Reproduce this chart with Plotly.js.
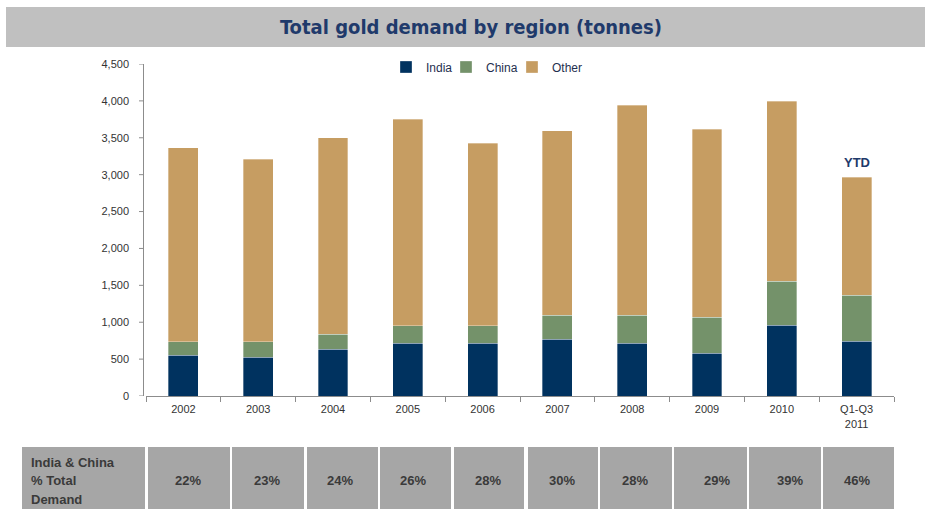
<!DOCTYPE html>
<html>
<head>
<meta charset="utf-8">
<script src="https://cdn.plot.ly/plotly-3.0.1.min.js"></script>
<style>html,body{margin:0;padding:0;background:#fff;}#chart{width:925px;height:509px;}</style>
</head>
<body>
<div id="chart"></div>
<script>
// ---- data ----
var categories = ["2002","2003","2004","2005","2006","2007","2008","2009","2010","Q1-Q3<br>2011"];
var india = [552, 524, 633, 714, 714, 768, 714, 578, 958, 740];
var chinaCum = [736, 736, 840, 953, 953, 1094, 1094, 1066, 1554, 1364];
var totals = [3365, 3208, 3501, 3750, 3425, 3592, 3940, 3614, 3994, 2964];
var china = chinaCum.map(function(v,i){return v - india[i];});
var other = totals.map(function(v,i){return v - chinaCum[i];});
var pctLabels = ["22%","23%","24%","26%","28%","30%","28%","29%","39%","46%"];
var tableHeader = ["India & China","% Total","Demand"];
var yTicks = [0,500,1000,1500,2000,2500,3000,3500,4000,4500];

// ---- layout helpers ----
var L = 146, R = 894, T = 64, B = 396;
function px(x){ return (x - L) / (R - L); }
function py(y){ return (B - y) / (B - T); }

var barLine = {color:'rgba(255,255,255,0.55)', width:0.6};
var traces = [
  {type:'bar', name:'India', x:categories, y:india, marker:{color:'#00325f', line:barLine}, legend:'legend'},
  {type:'bar', name:'China', x:categories, y:china, marker:{color:'#74926a', line:barLine}, legend:'legend2'},
  {type:'bar', name:'Other', x:categories, y:other, marker:{color:'#c69d62', line:barLine}, legend:'legend3'}
];

var shapes = [
  {type:'rect', xref:'paper', yref:'paper', x0:px(6), x1:px(925), y0:py(47), y1:py(7),
   fillcolor:'#c0c0c0', line:{width:0}, layer:'below'},
  {type:'line', xref:'paper', yref:'paper', x0:px(143.5), x1:px(143.5), y0:0, y1:1,
   line:{color:'#8c8c8c', width:1}}
];
var cellEdges = [[22,145],[148,230],[232,304],[307,378],[380,451],[454,524],[528,598],[600,672],[674,747],[749,821],[823,894]];
cellEdges.forEach(function(c){
  shapes.push({type:'rect', xref:'paper', yref:'paper', x0:px(c[0]), x1:px(c[1]), y0:py(520), y1:py(447),
    fillcolor:'#a6a6a6', line:{width:0}});
});

var tf = '"Liberation Sans", Arial, sans-serif';
var annotations = [
  {xref:'paper', yref:'paper', x:px(471), y:py(27), xanchor:'center', yanchor:'middle',
   text:'<b>Total gold demand by region (tonnes)</b>', showarrow:false,
   font:{family:'"DejaVu Sans Condensed", "Liberation Sans Narrow", "Liberation Sans", Arial, sans-serif', size:20, color:'#1f3a6b'}},
  {x:categories[9], y:3160, text:'<b>YTD</b>', showarrow:false, xanchor:'center', yanchor:'middle',
   font:{family:tf, size:13, color:'#1f3a6b'}}
];
var headerY = [462, 480, 499];
tableHeader.forEach(function(t,i){
  annotations.push({xref:'paper', yref:'paper', x:px(29), y:py(headerY[i]), xanchor:'left', yanchor:'middle',
    text:'<b>'+t+'</b>', showarrow:false, font:{family:tf, size:13, color:'#3a3a3a'}});
});
var textX = [188, 267, 340, 413, 488, 562, 635, 717, 790, 857];
pctLabels.forEach(function(t,i){
  annotations.push({xref:'paper', yref:'paper', x:px(textX[i]), y:py(480), xanchor:'center', yanchor:'middle',
    text:'<b>'+t+'</b>', showarrow:false, font:{family:tf, size:13, color:'#3a3a3a'}});
});

function leg(xpx){
  return {orientation:'h', x:px(xpx), y:py(67), xanchor:'left', yanchor:'middle',
          font:{size:12, color:'#1f2f4f'}, bgcolor:'rgba(0,0,0,0)', itemwidth:30};
}

var layout = {
  width:925, height:509,
  margin:{l:L, r:925-R, t:T, b:509-B, pad:0},
  paper_bgcolor:'#ffffff', plot_bgcolor:'#ffffff',
  barmode:'stack', bargap:0.6,
  font:{family:tf, size:11, color:'#333333'},
  showlegend:true,
  legend:leg(386), legend2:leg(446), legend3:leg(512),
  xaxis:{type:'category', showline:true, linecolor:'#8c8c8c', linewidth:1, ticks:'outside', tickson:'boundaries',
         ticklen:5, tickcolor:'#8c8c8c', showgrid:false, fixedrange:true, ticklabelstandoff:3,
         tickfont:{size:11, color:'#333'}},
  yaxis:{range:[0,4500], tickvals:yTicks, tickformat:',d', showline:false,
         ticks:'', showgrid:false, zeroline:false, fixedrange:true,
         ticklabelstandoff:16, tickfont:{size:11, color:'#333'}},
  shapes:shapes, annotations:annotations
};
// y tick marks to the left of the axis line at x=143.5
yTicks.forEach(function(v){
  layout.shapes.push({type:'line', xref:'paper', yref:'y', x0:px(139), x1:px(143.5), y0:v, y1:v,
    line:{color:'#8c8c8c', width:1}});
});

Plotly.newPlot('chart', traces, layout, {displayModeBar:false, staticPlot:true});
</script>
</body>
</html>
